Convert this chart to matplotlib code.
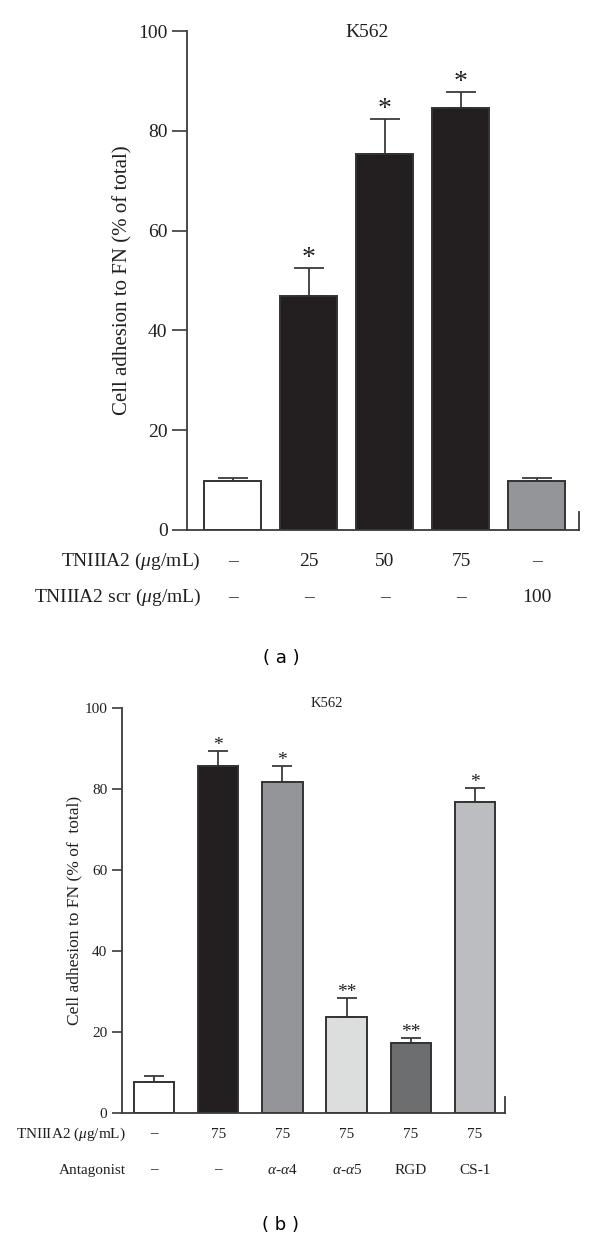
import matplotlib
matplotlib.use("Agg")
import matplotlib.pyplot as plt
import matplotlib.transforms as mtransforms

plt.rcParams['font.family'] = ['Liberation Serif', 'DejaVu Serif']
plt.rcParams['mathtext.fontset'] = 'custom'
plt.rcParams['mathtext.rm'] = 'Liberation Serif'
plt.rcParams['mathtext.it'] = 'Liberation Serif:italic'

# ---------------- data ----------------
a_values = [9.8, 46.9, 75.4, 84.6, 9.8]
a_errors = [0.6, 5.6, 7.0, 3.2, 0.6]
a_colors = ['#ffffff', '#231f20', '#231f20', '#231f20', '#939598']
a_stars = ['', '*', '*', '*', '']
a_row1 = ['–', '25', '50', '75', '–']
a_row2 = ['–', '–', '–', '–', '100']
a_row_labels = [r'TNIIIA2 ($\mu$g/mL)', r'TNIIIA2 scr ($\mu$g/mL)']

b_values = [7.7, 85.7, 81.7, 23.7, 17.3, 76.8]
b_errors = [1.4, 3.7, 4.0, 4.7, 1.2, 3.4]
b_colors = ['#ffffff', '#231f20', '#939598', '#dcdddd', '#6d6e70', '#bcbdc0']
b_stars = ['', '*', '*', '**', '**', '*']
b_row1 = ['–', '75', '75', '75', '75', '75']
b_row2 = ['–', '–', r'$\alpha$-$\alpha$4', r'$\alpha$-$\alpha$5', 'RGD', 'CS-1']
b_row_labels = [r'TNIIIA2 ($\mu$g/mL)', 'Antagonist']

yticks = [0, 20, 40, 60, 80, 100]
TXT = '#231f20'

W, H = 600, 1242
fig = plt.figure(figsize=(W / 100, H / 100), dpi=100)


def add_ax(left, right, bottom, top):
    return fig.add_axes([left / W, 1 - bottom / H, (right - left) / W, (bottom - top) / H])


def panel(ax, values, errors, colors, stars, rows, row_labels, width, xlim,
          fs, ylab_fs, star_fs, tick_len, capsize, star_off, row_y, label_x,
          ylabel, ylab_pad, right_tick, title_xy, title_fs):
    n = len(values)
    xs = list(range(n))
    ax.bar(xs, values, width=width, color=colors, edgecolor='#333333', linewidth=1.4, zorder=2)
    ax.errorbar(xs, values, yerr=[[0] * n, errors], fmt='none', ecolor='#3a3a3a',
                elinewidth=1.3, capsize=capsize, capthick=1.3, zorder=1)
    for x, v, e, s in zip(xs, values, errors, stars):
        if s:
            ax.text(x, v + e + star_off, s, ha='center', va='baseline', fontsize=star_fs,
                    color=TXT)
    ax.set_xlim(*xlim)
    ax.set_ylim(0, 100)
    ax.set_yticks(yticks)
    ax.set_xticks([])
    ax.tick_params(axis='y', direction='out', length=tick_len, width=1.2, colors='#3a3a3a',
                   labelsize=fs, labelcolor=TXT, pad=3)
    ax.spines['top'].set_visible(False)
    ax.spines['right'].set_bounds(0, right_tick)
    for sp in ['left', 'bottom', 'right']:
        ax.spines[sp].set_linewidth(1.3)
        ax.spines[sp].set_color('#3a3a3a')
    ax.set_ylabel(ylabel, fontsize=ylab_fs, color=TXT, labelpad=ylab_pad)
    ax.text(title_xy[0], title_xy[1], 'K562', ha='center', va='center',
            fontsize=title_fs, color=TXT, clip_on=False)
    tr = mtransforms.blended_transform_factory(ax.transData, ax.transAxes)
    for r, (row, lab) in enumerate(zip(rows, row_labels)):
        ax.text(label_x, row_y[r], lab, ha='right', va='center', fontsize=fs, color=TXT,
                transform=tr)
        for x, t in zip(xs, row):
            ax.text(x, row_y[r], t, ha='center', va='center', fontsize=fs, color=TXT,
                    transform=tr)


ax_a = add_ax(187, 579, 530, 31)
panel(ax_a, a_values, a_errors, a_colors, a_stars, [a_row1, a_row2], a_row_labels,
      width=0.75, xlim=(-0.605, 4.553), fs=14, ylab_fs=15, star_fs=20, tick_len=11,
      capsize=10.8, star_off=0.6, row_y=[-0.064, -0.136], label_x=-0.42,
      ylabel='Cell adhesion to FN (% of total)', ylab_pad=4, right_tick=3.6,
      title_xy=(1.76, 99.6), title_fs=14)

ax_b = add_ax(122, 505, 1113, 708)
panel(ax_b, b_values, b_errors, b_colors, b_stars, [b_row1, b_row2], b_row_labels,
      width=0.63, xlim=(-0.498, 5.467), fs=11, ylab_fs=12.5, star_fs=14, tick_len=7.5,
      capsize=7.5, star_off=0.2, row_y=[-0.052, -0.141], label_x=-0.436,
      ylabel='Cell adhesion to FN (% of  total)', ylab_pad=1.5, right_tick=4.0,
      title_xy=(2.69, 101.2), title_fs=10.5)

fig.text(281 / W, 1 - 658 / H, '( a )', ha='center', va='center', fontsize=13,
         family='DejaVu Sans', color='#000000')
fig.text(281 / W, 1 - 1225 / H, '( b )', ha='center', va='center', fontsize=13,
         family='DejaVu Sans', color='#000000')

fig.savefig('out.png', dpi=100, facecolor='white')
